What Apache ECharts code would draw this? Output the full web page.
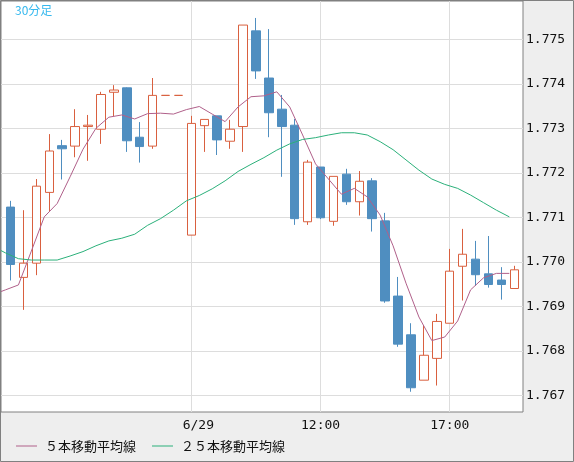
<!DOCTYPE html>
<html><head><meta charset="utf-8">
<script src="https://cdn.jsdelivr.net/npm/echarts@6/dist/echarts.min.js"></script>
<style>html,body{margin:0;padding:0;background:#eee;}#c{width:574px;height:462px;}</style>
</head><body><div id="c"></div>
<script>
// candle index 0..39 (30-minute bars)
const opens  = [1.77123,1.76965,1.76997,1.77156,1.77261,1.77260,1.77304,1.77298,1.77381,1.77391,
                1.77280,1.77260,1.77374,1.77374,1.77060,1.77306,1.77328,1.77271,1.77304,1.77519,
                1.77413,1.77343,1.77307,1.77090,1.77213,1.77091,1.77197,1.77135,1.77182,1.77092,
                1.76923,1.76836,1.76734,1.76783,1.76862,1.76990,1.77006,1.76973,1.76959,1.76940];
const closes = [1.76994,1.76997,1.77170,1.77249,1.77254,1.77304,1.77307,1.77376,1.77386,1.77272,
                1.77259,1.77374,1.77374,1.77374,1.77311,1.77320,1.77274,1.77298,1.77532,1.77429,
                1.77335,1.77304,1.77097,1.77224,1.77099,1.77192,1.77135,1.77181,1.77097,1.76912,
                1.76815,1.76717,1.76790,1.76866,1.76979,1.77017,1.76971,1.76949,1.76949,1.76982];
const lows   = [1.76958,1.76892,1.76970,1.77114,1.77185,1.77235,1.77227,1.77265,1.77327,1.77247,
                1.77223,1.77254,1.77374,1.77374,1.77060,1.77247,1.77240,1.77254,1.77247,1.77411,
                1.77280,1.77191,1.77083,1.77083,1.77096,1.77081,1.77128,1.77104,1.77068,1.76908,
                1.76809,1.76708,1.76734,1.76722,1.76862,1.76913,1.76946,1.76942,1.76915,1.76940];
const highs  = [1.77137,1.77116,1.77186,1.77287,1.77274,1.77343,1.77330,1.77382,1.77397,1.77392,
                1.77314,1.77413,1.77374,1.77374,1.77328,1.77320,1.77328,1.77319,1.77532,1.77548,
                1.77523,1.77375,1.77321,1.77229,1.77213,1.77192,1.77209,1.77204,1.77188,1.77110,
                1.76966,1.76862,1.76858,1.76883,1.77029,1.77074,1.77047,1.77058,1.76988,1.76991];
// moving averages, first value belongs to the bar before index 0 (clipped)
const ma5  = [1.76926,1.76937,1.76948,1.77024,1.77101,1.77131,1.77191,1.77253,1.77300,1.77325,1.77330,
              1.77321,1.77333,1.77334,1.77332,1.77342,1.77349,1.77332,1.77315,1.77348,1.77371,
              1.77373,1.77382,1.77348,1.77285,1.77220,1.77186,1.77152,1.77165,1.77146,1.77105,
              1.77036,1.76952,1.76876,1.76823,1.76831,1.76867,1.76937,1.76964,1.76974,1.76974];
const ma25 = [1.77035,1.77020,1.77007,1.77004,1.77004,1.77004,1.77013,1.77023,1.77036,1.77047,1.77053,
              1.77062,1.77082,1.77097,1.77116,1.77137,1.77149,1.77164,1.77182,1.77203,1.77219,
              1.77234,1.77251,1.77265,1.77275,1.77279,1.77285,1.77290,1.77290,1.77285,1.77270,
              1.77252,1.77229,1.77206,1.77186,1.77174,1.77165,1.77150,1.77133,1.77116,1.77101];
const xTickIdx = [14, 24, 34];
const xTickLabels = ['6/29', '12:00', '17:00'];
const yTicks = [1.767,1.768,1.769,1.770,1.771,1.772,1.773,1.774,1.775];
const seriesNames = ['５本移動平均線', '２５本移動平均線'];
const titleText = '30分足';

const UP = '#d9603f', DOWN = '#4f8ec0', C5 = '#b0608a', C25 = '#2bb07a';
const candleData = opens.map((o, i) => [i, o, closes[i], lows[i], highs[i]]);
const ma5Data = ma5.map((v, i) => [i - 1, v]);
const ma25Data = ma25.map((v, i) => [i - 1, v]);
const mono = 'DejaVu Sans Mono';

const chart = echarts.init(document.getElementById('c'), null, {renderer: 'canvas'});
chart.setOption({
  backgroundColor: '#eeeeee',
  animation: false,
  title: {text: titleText, left: 15, top: 4, padding: 0,
    textStyle: {color: '#35b8ee', fontSize: 12, fontWeight: 'normal', fontFamily: 'Noto Sans CJK JP'}},
  graphic: [{type: 'rect', shape: {x: 0.5, y: 0.5, width: 573, height: 461},
    style: {fill: null, stroke: '#808080', lineWidth: 1}, z: 100, silent: true}],
  legend: {
    data: [{name: seriesNames[0], itemStyle: {color: C5}}, {name: seriesNames[1], itemStyle: {color: C25}}],
    left: 16, top: 439.5, padding: 0, icon: 'rect', itemWidth: 21, itemHeight: 1, itemGap: 16,
    textStyle: {color: '#111', fontSize: 13, fontFamily: 'Noto Sans CJK JP', padding: [0, 0, 0, 3]}
  },
  grid: {left: 1, top: 1, width: 522, height: 411, show: true,
    backgroundColor: '#ffffff', borderColor: '#808080', borderWidth: 1},
  xAxis: [{
    type: 'value', min: -0.735, max: 39.67,
    axisLine: {show: false},
    axisTick: {show: false, customValues: xTickIdx},
    axisLabel: {customValues: xTickIdx, margin: 7, color: '#111', fontSize: 13, fontFamily: mono,
      formatter: v => { const k = xTickIdx.indexOf(Math.round(v)); return k === 0 ? '{d|' + xTickLabels[k] + '}' : (k >= 0 ? xTickLabels[k] : ''); },
      rich: {d: {padding: [0, 0, 0, 14], fontSize: 13, fontFamily: mono, color: '#111'}}},
    splitLine: {show: true, lineStyle: {color: '#dddddd', width: 1}}
  }, {
    type: 'value', min: -0.348, max: 40.057, show: false
  }],
  yAxis: {
    type: 'value', position: 'right', min: 1.766625, max: 1.775861, scale: true,
    axisLine: {show: false},
    axisTick: {show: false, customValues: yTicks},
    axisLabel: {customValues: yTicks, margin: 3, color: '#111', fontSize: 13, fontFamily: mono,
      formatter: v => v.toFixed(3)},
    splitLine: {show: true, lineStyle: {color: '#dddddd', width: 1}}
  },
  series: [{
    type: 'candlestick', xAxisIndex: 0, data: candleData,
    encode: {x: 0, y: [1, 2, 3, 4]},
    barWidth: 9,
    itemStyle: {color: '#ffffff', color0: DOWN, borderColor: UP, borderColor0: DOWN, borderWidth: 1}
  }, {
    name: seriesNames[0], type: 'line', xAxisIndex: 1, data: ma5Data, showSymbol: false, symbol: 'none',
    lineStyle: {color: C5, width: 1}, itemStyle: {color: C5}, z: 3
  }, {
    name: seriesNames[1], type: 'line', xAxisIndex: 1, data: ma25Data, showSymbol: false, symbol: 'none',
    lineStyle: {color: C25, width: 1}, itemStyle: {color: C25}, z: 3
  }]
});
</script></body></html>
